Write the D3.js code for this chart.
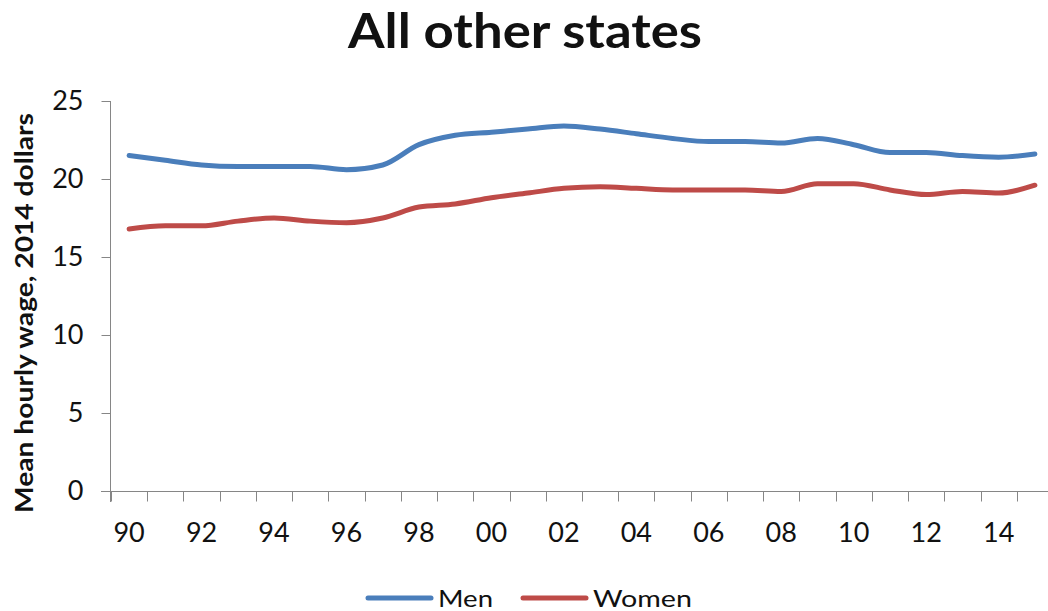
<!DOCTYPE html>
<html>
<head>
<meta charset="utf-8">
<script src="https://cdn.jsdelivr.net/npm/d3@7"></script>
<style>
  html, body { margin: 0; padding: 0; background: #fff; }
  svg { display: block; }
  text { font-family: Lato, "Open Sans", sans-serif; fill: #111; }
</style>
</head>
<body>
<svg id="chart" width="1048" height="611"></svg>
<script>
// Mean hourly wage (2014 dollars), 1990–2015
const years = d3.range(1990, 2016);
const menWage = [21.5, 21.2, 20.9, 20.8, 20.8, 20.8, 20.6, 20.9, 22.2, 22.8, 23.0, 23.2, 23.4,
                 23.2, 22.9, 22.6, 22.4, 22.4, 22.3, 22.6, 22.2, 21.7, 21.7, 21.5, 21.4, 21.6];
const womenWage = [16.8, 17.0, 17.0, 17.3, 17.5, 17.3, 17.2, 17.5, 18.2, 18.4, 18.8, 19.1, 19.4,
                   19.5, 19.4, 19.3, 19.3, 19.3, 19.2, 19.7, 19.7, 19.3, 19.0, 19.2, 19.1, 19.6];
const yTicks = [0, 5, 10, 15, 20, 25];
const seriesNames = ["Men", "Women"];
const seriesColors = ["#4a7ebb", "#be4b48"];

const svg = d3.select("#chart");
const axisColor = "#868686";
const tickFont = 27;

const x = d3.scaleBand().domain(years).range([111, 1053]);
const y = d3.scaleLinear().domain([0, 25]).range([491, 101]);

// Title
svg.append("text")
  .attr("x", 525).attr("y", 48)
  .attr("text-anchor", "middle")
  .attr("font-size", 47).attr("font-weight", "bold")
  .attr("textLength", 354).attr("lengthAdjust", "spacingAndGlyphs")
  .text("All other states");

// Y axis
const yAxis = svg.append("g").attr("transform", "translate(110.5,0)")
  .call(d3.axisLeft(y).tickValues(yTicks).tickSize(9).tickPadding(18));
yAxis.select(".domain").attr("stroke", axisColor).attr("d", "M0,101V502");
yAxis.selectAll(".tick line").attr("stroke", axisColor);
yAxis.selectAll(".tick text").attr("font-size", tickFont).attr("fill", "#2a2a2a")
  .attr("font-family", "Lato, sans-serif");

// X axis: ticks fall between categories, labels every other year
const xAxis = svg.append("g").attr("transform", "translate(0,491.5)");
xAxis.append("line").attr("x1", 101).attr("x2", 1053).attr("stroke", axisColor);
xAxis.selectAll("line.tk").data(years).join("line").attr("class", "tk")
  .attr("x1", d => Math.round(x(d)) + 0.5).attr("x2", d => Math.round(x(d)) + 0.5)
  .attr("y1", 0).attr("y2", 10).attr("stroke", axisColor);
xAxis.selectAll("text").data(years.filter((d, i) => i % 2 === 0)).join("text")
  .attr("x", d => x(d) + x.bandwidth() / 2).attr("y", 50.5)
  .attr("text-anchor", "middle").attr("font-size", tickFont).attr("fill", "#2a2a2a")
  .text(d => String(d % 100).padStart(2, "0"));

// Y axis title
svg.append("text")
  .attr("transform", "translate(33,313) rotate(-90)")
  .attr("text-anchor", "middle")
  .attr("font-size", 25).attr("font-weight", "bold")
  .attr("textLength", 400).attr("lengthAdjust", "spacingAndGlyphs")
  .text("Mean hourly wage, 2014 dollars");

// Lines
const line = d3.line()
  .x((d, i) => x(years[i]) + x.bandwidth() / 2)
  .y(d => y(d))
  .curve(d3.curveMonotoneX);

[menWage, womenWage].forEach((vals, k) => {
  svg.append("path").datum(vals)
    .attr("fill", "none").attr("stroke", seriesColors[k])
    .attr("stroke-width", 5).attr("stroke-linejoin", "round").attr("stroke-linecap", "round")
    .attr("d", line);
});

// Legend
const legendX = [368, 523];
const legendTextWidth = [55, 99];
seriesNames.forEach((name, k) => {
  const g = svg.append("g").attr("transform", `translate(${legendX[k]},598)`);
  g.append("line").attr("x1", 0).attr("x2", 63).attr("y1", 0).attr("y2", 0)
    .attr("stroke", seriesColors[k]).attr("stroke-width", 5).attr("stroke-linecap", "round");
  g.append("text").attr("x", 70).attr("y", 9).attr("font-size", 24).attr("fill", "#222")
    .attr("textLength", legendTextWidth[k]).attr("lengthAdjust", "spacingAndGlyphs")
    .text(name);
});
</script>
</body>
</html>
